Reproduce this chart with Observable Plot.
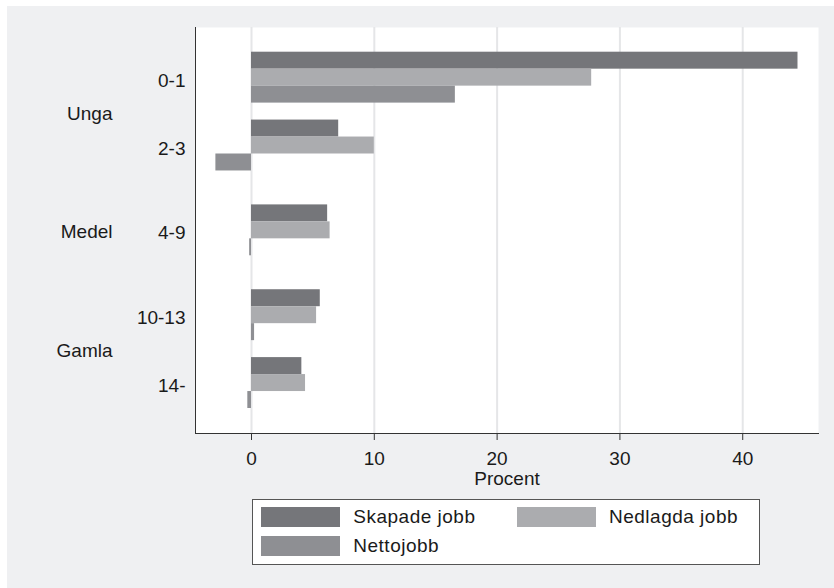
<!DOCTYPE html>
<html>
<head>
<meta charset="utf-8">
<script src="https://cdn.jsdelivr.net/npm/d3@7"></script>
<script src="https://cdn.jsdelivr.net/npm/@observablehq/plot@0.6"></script>
<style>
  html, body { margin: 0; padding: 0; background: #ffffff; }
  #bg { position: absolute; left: 7px; top: 6px; width: 827px; height: 582px; background: #eff0f2; overflow: hidden; }
  #bg svg { position: absolute; left: 0; top: 0; }
  .legend { position: absolute; box-sizing: border-box; background: #ffffff; border: 1px solid #555; }
  .sw { position: absolute; }
  .lab { position: absolute; font-family: "Liberation Sans", Arial, sans-serif; font-size: 19px; letter-spacing: 0.5px; color: #1a1a1a; line-height: 20px; white-space: nowrap; }
</style>
</head>
<body>
<div id="bg"></div>
<script>
// ---- data ----
const ages = ["0-1", "2-3", "4-9", "10-13", "14-"];
const ageGroup = ["Unga", "Unga", "Medel", "Gamla", "Gamla"];
const outerGroups = ["Unga", "Medel", "Gamla"];
const seriesNames = ["Skapade jobb", "Nedlagda jobb", "Nettojobb"];
const skapade = [44.5, 7.1, 6.2, 5.6, 4.1];
const nedlagda = [27.7, 10.0, 6.4, 5.3, 4.4];
const netto = [16.6, -2.9, -0.15, 0.25, -0.3];
const xTicks = [0, 10, 20, 30, 40];
const xLabel = "Procent";
const colors = ["#75767a", "#abacaf", "#8e8f93"];

// ---- build rows (bars + spacer rows) ----
const seriesValues = [skapade, nedlagda, netto];
const rows = [];
const data = [];
const ageMidRow = [];
let gapN = 0;
ages.forEach((age, i) => {
  if (i > 0) {
    const nGap = ageGroup[i] === ageGroup[i - 1] ? 1 : 2;
    for (let g = 0; g < nGap; g++) rows.push("gap" + (gapN++));
  }
  seriesNames.forEach((s, j) => {
    const key = age + "|" + s;
    rows.push(key);
    data.push({row: key, series: s, value: seriesValues[j][i]});
  });
  ageMidRow.push(age + "|" + seriesNames[1]);
});
// centre row for each outer group
const outerRows = outerGroups.map(g => {
  const idx = ages.map((a, i) => i).filter(i => ageGroup[i] === g);
  const first = rows.indexOf(ages[idx[0]] + "|" + seriesNames[1]);
  const last = rows.indexOf(ages[idx[idx.length - 1]] + "|" + seriesNames[1]);
  return rows[Math.round((first + last) / 2)];
});
const ageLabel = new Map(ageMidRow.map((r, i) => [r, ages[i]]));
const outerLabel = new Map(outerRows.map((r, i) => [r, outerGroups[i]]));

const W = 827, H = 490;
const chart = Plot.plot({
  width: W,
  height: H,
  marginLeft: 188,
  marginRight: 16,
  marginTop: 21,
  marginBottom: 63,
  style: {fontFamily: "'Liberation Sans', Arial, sans-serif", fontSize: "19px", color: "#1a1a1a", background: "transparent", overflow: "visible"},
  x: {domain: [-4.56, 46.17], axis: null},
  y: {type: "band", domain: rows, range: [45.7, 402], padding: 0, round: false, axis: null},
  color: {domain: seriesNames, range: colors},
  marks: [
    Plot.frame({fill: "#ffffff", stroke: "none"}),
    Plot.ruleX(xTicks, {stroke: "#e5e6e8", strokeWidth: 2}),
    Plot.barX(data, {x: "value", y: "row", fill: "series"}),
    Plot.frame({anchor: "left", stroke: "#333"}),
    Plot.frame({anchor: "bottom", stroke: "#333"}),
    Plot.axisX(xTicks, {tickSize: 7, tickPadding: 11, label: null, stroke: "#333", letterSpacing: "0.5px"}),
    Plot.axisY(ageMidRow, {tickSize: 0, tickPadding: 10, tickFormat: d => ageLabel.get(d), textAnchor: "end", dy: 3, label: null, letterSpacing: "0.6px"}),
    Plot.axisY(outerRows, {tickSize: 0, tickPadding: 83, tickFormat: d => outerLabel.get(d), textAnchor: "end", dy: 2, label: null, letterSpacing: "1.8px"}),
    Plot.text([xLabel], {frameAnchor: "bottom", dy: 45, lineAnchor: "middle", text: d => d, letterSpacing: "0.5px"})
  ]
});
const bg = document.getElementById("bg");
bg.appendChild(chart);

// ---- legend ----
const ox = 7, oy = 6;
const legend = document.createElement("div");
legend.className = "legend";
const lx = 252.3, ly = 499.3;
legend.style.left = (lx - ox) + "px";
legend.style.top = (ly - oy) + "px";
legend.style.width = (760 - lx) + "px";
legend.style.height = (565.5 - ly) + "px";
bg.appendChild(legend);
const cols = [0, 1, 0];
const rowsL = [0, 0, 1];
const swLeft = [260.7, 517];
const swTop = [507.3, 535.7];
const labLeft = [353.3, 609];
seriesNames.forEach((s, i) => {
  const c = cols[i], r = rowsL[i];
  const sw = document.createElement("div");
  sw.className = "sw";
  sw.style.background = colors[i];
  sw.style.left = (swLeft[c] - lx - 1) + "px";
  sw.style.top = (swTop[r] - ly - 1) + "px";
  sw.style.width = "79px";
  sw.style.height = "20px";
  legend.appendChild(sw);
  const lab = document.createElement("div");
  lab.className = "lab";
  lab.textContent = s;
  lab.style.left = (labLeft[c] - lx - 1) + "px";
  lab.style.top = (swTop[r] - ly - 1) + "px";
  legend.appendChild(lab);
});
</script>
</body>
</html>
